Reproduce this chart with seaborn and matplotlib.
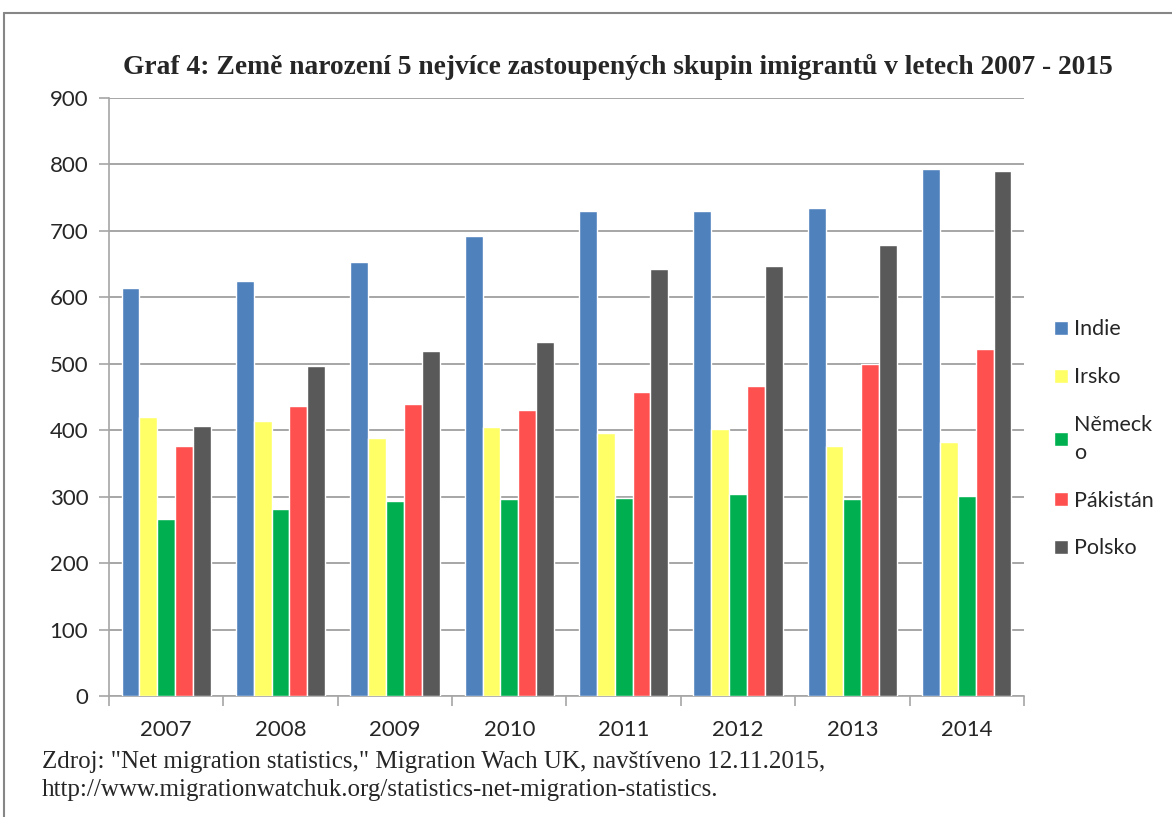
import numpy as np
import pandas as pd
import matplotlib.pyplot as plt
import matplotlib.lines as mlines
import seaborn as sns

sns.set_theme(style="white")
plt.rcParams['font.family'] = ['Lato', 'DejaVu Sans']

# data
years = ['2007', '2008', '2009', '2010', '2011', '2012', '2013', '2014']
indie = [614, 625, 654, 693, 730, 730, 734, 793]
irsko = [420, 414, 389, 405, 396, 402, 377, 382]
nemecko = [267, 281, 294, 296, 298, 304, 297, 301]
pakistan = [377, 436, 440, 431, 457, 466, 500, 523]
polsko = [406, 496, 520, 533, 643, 647, 679, 790]

countries = ['Indie', 'Irsko', 'Německ\no', 'Pákistán', 'Polsko']
colors = ['#4F81BD', '#FFFF66', '#00B050', '#FF5050', '#595959']

df = pd.DataFrame({'Indie': indie, 'Irsko': irsko, 'Německ\no': nemecko,
                   'Pákistán': pakistan, 'Polsko': polsko}, index=years)
long = df.reset_index(names='Rok').melt(id_vars='Rok', var_name='Země', value_name='Počet')

fig = plt.figure(figsize=(11.72, 8.17), dpi=100)
ax = fig.add_axes([0.093, 0.148, 0.7807, 0.732])

sns.barplot(data=long, x='Rok', y='Počet', hue='Země', hue_order=countries,
            palette=colors, width=0.78, saturation=1, ax=ax, zorder=3)

ax.set_ylim(0, 900)
ax.set_xlim(-0.5, len(years) - 0.5)
ax.set_yticks(range(0, 901, 100))
ax.yaxis.grid(True, color='#A6A6A6', linewidth=1.4, zorder=0)
ax.set_axisbelow(True)
ax.set_xlabel('')
ax.set_ylabel('')

for s in ['top', 'right']:
    ax.spines[s].set_visible(False)
for s in ['left', 'bottom']:
    ax.spines[s].set_color('#A6A6A6')
    ax.spines[s].set_linewidth(1.2)

ax.tick_params(axis='y', which='major', left=True, length=7, width=1.2,
               color='#A6A6A6', labelsize=16, labelcolor='#262626', pad=8)
ax.set_xticks(np.arange(-0.5, len(years)), minor=True)
ax.tick_params(axis='x', which='major', bottom=False, labelsize=16,
               labelcolor='#262626', pad=11)
ax.tick_params(axis='x', which='minor', bottom=True, length=7, width=1.2,
               color='#A6A6A6')

leg = ax.legend(loc='center left', bbox_to_anchor=(1.012, 0.43), frameon=False,
                fontsize=15.5, handlelength=0.62, handleheight=0.62,
                handletextpad=0.3, labelspacing=1.3)
for t in leg.get_texts():
    t.set_linespacing(1.45)

fig.text(0.527, 0.918, 'Graf 4: Země narození 5 nejvíce zastoupených skupin imigrantů v letech 2007 - 2015',
         ha='center', va='center', fontsize=19.8, fontweight='bold',
         family='Liberation Serif')
fig.text(0.036, 0.067, 'Zdroj: "Net migration statistics," Migration Wach UK, navštíveno 12.11.2015,',
         ha='left', va='center', fontsize=18, family='Liberation Serif')
fig.text(0.036, 0.033, 'http://www.migrationwatchuk.org/statistics-net-migration-statistics.',
         ha='left', va='center', fontsize=18, family='Liberation Serif')

# outer frame of the chart
fig.add_artist(mlines.Line2D([0.003, 1.0], [0.984, 0.984], color='#868686', linewidth=1.5))
fig.add_artist(mlines.Line2D([0.003, 0.003], [0.0, 0.984], color='#868686', linewidth=1.5))

fig.savefig('out.png', dpi=100)
